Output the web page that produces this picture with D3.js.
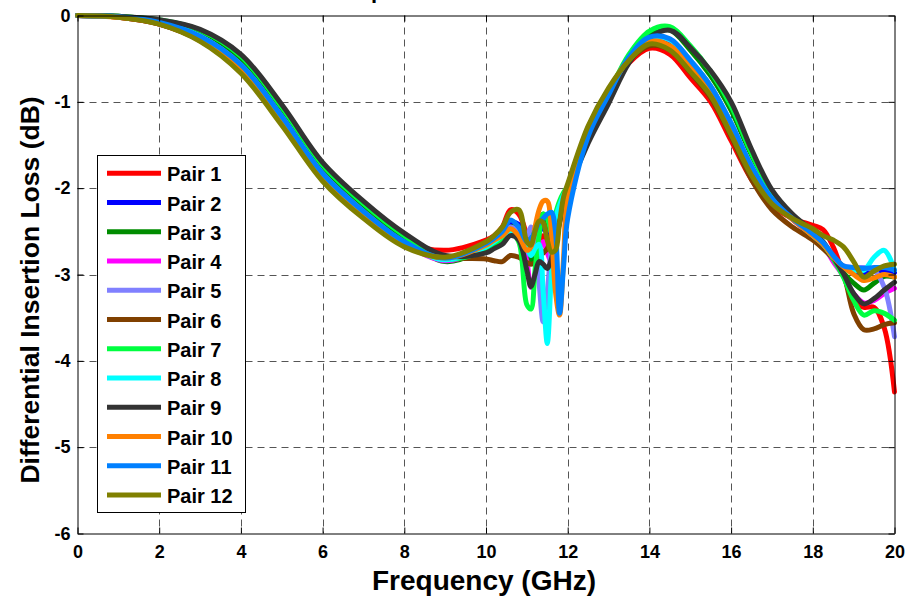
<!DOCTYPE html>
<html>
<head>
<meta charset="utf-8">
<script src="https://cdn.jsdelivr.net/npm/d3@7"></script>
<style>
  body { margin: 0; background: #fff; }
  text { font-family: "Liberation Sans", Arial, sans-serif; font-weight: bold; }
</style>
</head>
<body>
<div id="chart"></div>
<script>
var width = 907;
var height = 597;

// frequency points (GHz), shared by every pair
var freq = [0, 1, 2, 3, 4, 5, 6, 7, 8, 9, 10,
  10.2, 10.4, 10.6, 10.8, 11, 11.1, 11.2, 11.3, 11.4, 11.5, 11.6, 11.7, 11.8, 11.9, 12,
  12.5, 13, 13.5, 14, 14.5, 15, 15.5, 16, 16.5, 17, 17.5,
  18, 18.25, 18.5, 18.75, 19, 19.25, 19.5, 19.75, 20];

// insertion loss (dB)
var pair1 = [0, -0.02, -0.1, -0.29, -0.65, -1.25, -1.9, -2.32, -2.62, -2.72, -2.6,
  -2.55, -2.45, -2.25, -2.3, -2.55, -2.75, -2.85, -2.7, -2.55, -2.6, -2.75, -2.65, -2.4, -2.15, -1.98,
  -1.32, -0.88, -0.55, -0.38, -0.45, -0.72, -1.0, -1.45, -1.9, -2.2, -2.35,
  -2.43, -2.48, -2.68, -3.0, -3.3, -3.38, -3.38, -3.62, -4.36];
var pair2 = [0, -0.015, -0.08, -0.24, -0.58, -1.18, -1.84, -2.28, -2.63, -2.82, -2.66,
  -2.6, -2.52, -2.4, -2.42, -2.65, -2.8, -2.7, -2.52, -2.45, -2.55, -2.7, -2.6, -2.35, -2.12, -2.0,
  -1.38, -0.92, -0.5, -0.27, -0.3, -0.55, -0.85, -1.28, -1.78, -2.13, -2.36,
  -2.55, -2.65, -2.8, -2.92, -2.97, -2.98, -2.96, -2.95, -2.98];
var pair3 = [0, -0.01, -0.06, -0.19, -0.5, -1.09, -1.76, -2.21, -2.58, -2.85, -2.7,
  -2.64, -2.58, -2.45, -2.48, -2.7, -2.85, -2.75, -2.45, -2.3, -2.4, -2.5, -2.35, -2.2, -2.1, -2.02,
  -1.38, -0.93, -0.48, -0.22, -0.17, -0.4, -0.7, -1.1, -1.62, -2.06, -2.33,
  -2.55, -2.65, -2.82, -2.98, -3.1, -3.18, -3.1, -3.02, -3.03];
var pair4 = [0, -0.015, -0.08, -0.24, -0.58, -1.18, -1.84, -2.28, -2.64, -2.84, -2.7,
  -2.65, -2.58, -2.48, -2.52, -2.85, -3.15, -3.0, -2.7, -2.62, -2.75, -2.85, -2.6, -2.3, -2.1, -2.0,
  -1.38, -0.92, -0.5, -0.27, -0.28, -0.52, -0.82, -1.25, -1.75, -2.12, -2.36,
  -2.55, -2.66, -2.85, -3.02, -3.22, -3.33, -3.3, -3.22, -3.16];
var pair5 = [0, -0.015, -0.08, -0.24, -0.57, -1.17, -1.83, -2.27, -2.63, -2.83, -2.68,
  -2.62, -2.55, -2.45, -2.5, -2.55, -2.45, -2.6, -3.1, -3.55, -3.2, -2.7, -2.45, -2.25, -2.1, -2.0,
  -1.38, -0.92, -0.49, -0.26, -0.28, -0.52, -0.82, -1.25, -1.75, -2.12, -2.35,
  -2.55, -2.65, -2.8, -2.9, -2.92, -2.92, -2.95, -3.15, -3.72];
var pair6 = [0, -0.02, -0.1, -0.29, -0.65, -1.25, -1.9, -2.33, -2.66, -2.8, -2.82,
  -2.84, -2.85, -2.78, -2.8, -2.86, -2.88, -2.86, -2.8, -2.75, -2.7, -2.55, -2.4, -2.25, -2.1, -2.0,
  -1.3, -0.86, -0.52, -0.35, -0.4, -0.66, -0.95, -1.4, -1.9, -2.25, -2.45,
  -2.6, -2.7, -2.82, -3.0, -3.45, -3.64, -3.63, -3.58, -3.56];
var pair7 = [0, -0.01, -0.05, -0.17, -0.47, -1.06, -1.73, -2.18, -2.55, -2.82, -2.72,
  -2.66, -2.6, -2.52, -2.62, -3.35, -3.4, -2.95, -2.55, -2.3, -2.35, -2.5, -2.3, -2.15, -2.05, -1.98,
  -1.35, -0.9, -0.45, -0.18, -0.13, -0.35, -0.65, -1.05, -1.6, -2.05, -2.32,
  -2.52, -2.64, -2.82, -3.03, -3.3, -3.47, -3.42, -3.45, -3.53];
var pair8 = [0, -0.015, -0.08, -0.24, -0.58, -1.18, -1.84, -2.28, -2.63, -2.83, -2.68,
  -2.62, -2.55, -2.5, -2.55, -2.7, -2.78, -2.7, -2.65, -3.2, -3.8, -3.0, -2.35, -2.2, -2.08, -2.0,
  -1.38, -0.92, -0.49, -0.26, -0.28, -0.52, -0.82, -1.25, -1.75, -2.12, -2.35,
  -2.55, -2.65, -2.8, -2.92, -2.95, -2.95, -2.8, -2.72, -2.95];
var pair9 = [0, -0.01, -0.05, -0.16, -0.45, -1.03, -1.7, -2.15, -2.52, -2.78, -2.75,
  -2.7, -2.65, -2.55, -2.6, -2.95, -3.14, -3.0, -2.85, -2.88, -2.93, -2.82, -2.6, -2.4, -2.2, -2.05,
  -1.48, -1.02, -0.55, -0.26, -0.17, -0.37, -0.64, -1.0, -1.55, -2.02, -2.3,
  -2.5, -2.62, -2.8, -2.99, -3.22, -3.34, -3.28, -3.18, -3.09];
var pair10 = [0, -0.02, -0.09, -0.27, -0.62, -1.23, -1.88, -2.31, -2.65, -2.81, -2.66,
  -2.6, -2.55, -2.47, -2.55, -2.72, -2.68, -2.45, -2.25, -2.15, -2.15, -2.5, -3.2, -3.47, -2.8, -2.1,
  -1.33, -0.88, -0.5, -0.3, -0.35, -0.6, -0.9, -1.33, -1.82, -2.16, -2.36,
  -2.55, -2.65, -2.8, -2.91, -3.0, -3.07, -3.04, -3.0, -3.03];
var pair11 = [0, -0.015, -0.08, -0.24, -0.57, -1.17, -1.83, -2.27, -2.62, -2.81, -2.64,
  -2.58, -2.5, -2.37, -2.45, -2.62, -2.58, -2.5, -2.4, -2.35, -2.3, -2.28, -2.5, -3.45, -2.9, -2.35,
  -1.4, -0.92, -0.48, -0.25, -0.27, -0.52, -0.82, -1.25, -1.75, -2.12, -2.35,
  -2.53, -2.63, -2.78, -2.9, -2.92, -2.93, -2.92, -2.92, -2.95];
var pair12 = [0, -0.02, -0.1, -0.3, -0.67, -1.27, -1.92, -2.35, -2.68, -2.8, -2.62,
  -2.55, -2.45, -2.28, -2.25, -2.62, -2.66, -2.5, -2.38, -2.4, -2.6, -2.74, -2.72, -2.4, -2.1, -1.95,
  -1.28, -0.84, -0.52, -0.33, -0.4, -0.65, -0.93, -1.38, -1.85, -2.18, -2.35,
  -2.47, -2.55, -2.6, -2.68, -2.85, -3.03, -2.96, -2.9, -2.88];

var pairNames = ["Pair 1", "Pair 2", "Pair 3", "Pair 4", "Pair 5", "Pair 6",
  "Pair 7", "Pair 8", "Pair 9", "Pair 10", "Pair 11", "Pair 12"];
var pairColors = ["#ff0000", "#0000ff", "#008c00", "#ff00ff", "#8080ff", "#804000",
  "#00ff40", "#00ffff", "#333333", "#ff8000", "#0080ff", "#808000"];
var xTicks = [0, 2, 4, 6, 8, 10, 12, 14, 16, 18, 20];
var yTicks = [0, -1, -2, -3, -4, -5, -6];

var allPairs = [pair1, pair2, pair3, pair4, pair5, pair6,
  pair7, pair8, pair9, pair10, pair11, pair12];

var series = allPairs.map(function (vals, i) {
  return {
    name: pairNames[i],
    color: pairColors[i],
    points: vals.map(function (v, j) { return { f: freq[j], v: v }; })
  };
});

// plot box
var plotLeft = 77.5, plotRight = 894.5, plotTop = 15.5, plotBottom = 533.5;
var xScale = d3.scaleLinear().domain([0, 20]).range([plotLeft, plotRight]);
var yScale = d3.scaleLinear().domain([-6, 0]).range([plotBottom, plotTop]);

var svg = d3.select("#chart")
  .append("svg")
  .attr("width", width)
  .attr("height", height)
  .style("display", "block");

svg.append("rect")
  .attr("width", width)
  .attr("height", height)
  .attr("fill", "#fff");

// title, almost entirely above the window
svg.append("text")
  .attr("x", (plotLeft + plotRight) / 2 - 8)
  .attr("y", -2)
  .attr("text-anchor", "middle")
  .style("font-size", "22px")
  .text("Comparison of Insertion Loss");

// dashed grid
svg.append("g")
  .selectAll("line")
  .data(xTicks.slice(1, -1))
  .enter()
  .append("line")
  .attr("x1", function (d) { return Math.round(xScale(d)) + 0.5; })
  .attr("x2", function (d) { return Math.round(xScale(d)) + 0.5; })
  .attr("y1", plotTop)
  .attr("y2", plotBottom)
  .attr("stroke", "#555")
  .attr("stroke-dasharray", "7,5");

svg.append("g")
  .selectAll("line")
  .data(yTicks.slice(1, -1))
  .enter()
  .append("line")
  .attr("x1", plotLeft)
  .attr("x2", plotRight)
  .attr("y1", function (d) { return Math.round(yScale(d)) + 0.5; })
  .attr("y2", function (d) { return Math.round(yScale(d)) + 0.5; })
  .attr("stroke", "#555")
  .attr("stroke-dasharray", "7,5");

// curves
var line = d3.line()
  .x(function (d) { return xScale(d.f); })
  .y(function (d) { return yScale(d.v); })
  .curve(d3.curveCatmullRom.alpha(0.5));

svg.append("g")
  .selectAll("path")
  .data(series)
  .enter()
  .append("path")
  .attr("d", function (d) { return line(d.points); })
  .attr("fill", "none")
  .attr("stroke", function (d) { return d.color; })
  .attr("stroke-width", 5)
  .attr("stroke-linejoin", "round")
  .attr("stroke-linecap", "round");

// axes with inward ticks
var xAxis = d3.axisBottom(xScale).tickValues(xTicks).tickSizeInner(-6).tickSizeOuter(0).tickPadding(12)
  .tickFormat(function (d) { return d; });
var yAxis = d3.axisLeft(yScale).tickValues(yTicks).tickSizeInner(-6).tickSizeOuter(0).tickPadding(7)
  .tickFormat(function (d) { return d; });

var gx = svg.append("g")
  .attr("transform", "translate(0," + plotBottom + ")")
  .call(xAxis);
var gy = svg.append("g")
  .attr("transform", "translate(" + plotLeft + ",0)")
  .call(yAxis);

svg.append("g")
  .attr("transform", "translate(0," + plotTop + ")")
  .call(d3.axisTop(xScale).tickValues(xTicks).tickSizeInner(-6).tickSizeOuter(0).tickFormat(""));
svg.append("g")
  .attr("transform", "translate(" + plotRight + ",0)")
  .call(d3.axisRight(yScale).tickValues(yTicks).tickSizeInner(-6).tickSizeOuter(0).tickFormat(""));

svg.selectAll(".tick line").attr("stroke", "#000");
svg.selectAll(".domain").attr("stroke", "#000");
gx.selectAll("text").style("font-size", "18px").attr("fill", "#000")
  .style("font-family", "'Liberation Sans', Arial, sans-serif").style("font-weight", "bold");
gy.selectAll("text").style("font-size", "18px").attr("fill", "#000")
  .style("font-family", "'Liberation Sans', Arial, sans-serif").style("font-weight", "bold");

// axis titles
svg.append("text")
  .attr("x", 484)
  .attr("y", 590)
  .attr("text-anchor", "middle")
  .style("font-size", "28px")
  .text("Frequency (GHz)");

svg.append("text")
  .attr("transform", "translate(39,290) rotate(-90)")
  .attr("text-anchor", "middle")
  .style("font-size", "26.5px")
  .text("Differential Insertion Loss (dB)");

// legend
var legend = svg.append("g");
legend.append("rect")
  .attr("x", 97.5)
  .attr("y", 155.5)
  .attr("width", 148)
  .attr("height", 357)
  .attr("fill", "#fff")
  .attr("stroke", "#000");

var items = legend.selectAll("g.item")
  .data(series)
  .enter()
  .append("g")
  .attr("class", "item")
  .attr("transform", function (d, i) { return "translate(0," + (173.3 + i * 29.25) + ")"; });

items.append("line")
  .attr("x1", 107)
  .attr("x2", 161)
  .attr("stroke", function (d) { return d.color; })
  .attr("stroke-width", 5);

items.append("text")
  .attr("x", 167)
  .attr("y", 8)
  .style("font-size", "20px")
  .text(function (d) { return d.name; });
</script>
</body>
</html>
